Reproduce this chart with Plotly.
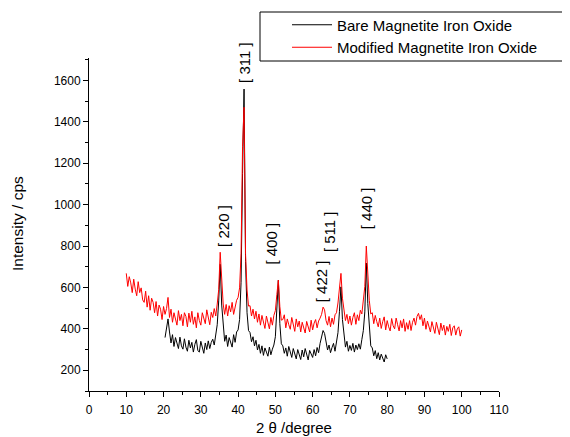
import numpy as np
import plotly.graph_objects as go

# 2-theta sampling grids (degrees)
two_theta_modified = np.round(np.arange(10.0, 100.0001, 0.4), 1)
two_theta_bare = np.round(np.arange(20.4, 80.0001, 0.4), 1)

# Modified magnetite iron oxide (red), intensity / cps
intensity_modified = [
    668, 605, 652, 622, 575, 640, 592, 560, 628, 575,
    598, 540, 528, 582, 505, 560, 490, 548, 528, 478,
    532, 462, 515, 495, 445, 508, 470, 498, 552, 455,
    495, 432, 478, 452, 418, 488, 440, 470, 415, 478,
    460, 410, 476, 432, 485, 422, 458, 405, 478, 440,
    418, 478, 450, 425, 492, 445, 420, 480, 455, 498,
    462, 520, 590, 770, 618, 520, 470, 518, 462, 512,
    482, 528, 470, 515, 538, 552, 598, 765, 1280, 1470,
    760, 588, 510, 512, 462, 495, 448, 485, 432, 472,
    418, 465, 440, 402, 462, 425, 400, 455, 418, 465,
    488, 565, 635, 508, 442, 445, 468, 405, 448, 420,
    398, 455, 415, 388, 448, 410, 438, 385, 432, 402,
    380, 436, 408, 385, 442, 395, 428, 445, 405, 438,
    452, 470, 505, 492, 440, 418, 460, 410, 452, 422,
    468, 478, 525, 595, 668, 548, 488, 440, 470, 425,
    462, 418, 455, 478, 422, 468, 440, 490, 472, 530,
    605, 800, 645, 538, 472, 478, 425, 465, 435, 410,
    452, 402, 435, 458, 395, 440, 410, 390, 450, 415,
    400, 452, 420, 390, 440, 405, 448, 388, 430, 398,
    440, 392, 432, 452, 418, 460, 475, 445, 468, 415,
    452, 398, 438, 412, 385, 435, 405, 378, 432, 398,
    372, 428, 392, 418, 370, 412, 388, 422, 368, 405,
    415, 370, 400, 410, 365, 395,
]

# Bare magnetite iron oxide (black), intensity / cps
intensity_bare = [
    358, 395, 448, 385, 332, 372, 315, 358, 330, 305,
    360, 318, 302, 352, 312, 292, 345, 308, 335, 288,
    325, 348, 295, 288, 340, 305, 282, 332, 300, 342,
    305, 335, 350, 322, 372, 420, 535, 712, 515, 405,
    340, 370, 315, 358, 330, 312, 372, 335, 385, 395,
    445, 625, 1150, 1558, 725, 478, 392, 382, 338, 362,
    318, 345, 298, 325, 282, 318, 272, 308, 288, 268,
    312, 275, 302, 322, 362, 472, 635, 425, 328, 318,
    282, 308, 268, 315, 280, 262, 305, 275, 255, 300,
    272, 252, 298, 265, 305, 270, 250, 296, 278, 262,
    300, 270, 310, 285, 330, 355, 392, 378, 335, 298,
    322, 285, 310, 330, 292, 338, 382, 485, 603, 445,
    360, 312, 340, 292, 320, 296, 330, 288, 322, 300,
    328, 302, 348, 392, 482, 718, 522, 392, 318, 308,
    270, 295, 256, 285, 250, 278, 258, 240, 275, 255,
]

# Miller index labels: text, 2-theta and intensity of label centre
hkl_labels = ["[ 220 ]", "[ 311 ]", "[ 400 ]", "[ 422 ]", "[ 511 ]", "[ 440 ]"]
hkl_x = [36.2, 41.9, 49.0, 62.4, 64.7, 74.5]
hkl_y = [897, 1685, 810, 628, 868, 981]

series_names = ["Bare Magnetite Iron Oxide", "Modified Magnetite Iron Oxide"]

FONT = "Liberation Sans, Arial, sans-serif"

W, H = 562, 429
ML, MR, MT, MB = 81, 71, 50, 46
PW, PH = W - ML - MR, H - MT - MB


def px_x(fx):
    return (fx - ML) / PW


def px_y(fy):
    return (H - MB - fy) / PH


fig = go.Figure()
fig.add_trace(go.Scatter(x=two_theta_bare, y=intensity_bare, mode="lines",
                         name=series_names[0],
                         line=dict(color="#000000", width=1)))
fig.add_trace(go.Scatter(x=two_theta_modified, y=intensity_modified, mode="lines",
                         name=series_names[1],
                         line=dict(color="#ff0000", width=1)))

for t, xv, yv in zip(hkl_labels, hkl_x, hkl_y):
    fig.add_annotation(x=xv, y=yv, xref="x", yref="y", text=t, textangle=-90,
                       showarrow=False, font=dict(family=FONT, size=15, color="#000"))

# y-axis title
fig.add_annotation(x=px_x(9), y=px_y(216), xref="paper", yref="paper",
                   xanchor="center", yanchor="middle",
                   text="Intensity / cps", textangle=-90, showarrow=False,
                   font=dict(family=FONT, size=15.5, color="#000"))

# legend frame
fig.add_shape(type="rect", xref="paper", yref="paper",
              x0=px_x(252), x1=px_x(575), y0=px_y(53), y1=px_y(4),
              line=dict(color="#000", width=1), fillcolor="white", layer="above")

fig.update_layout(
    width=W, height=H,
    margin=dict(l=ML, r=MR, t=MT, b=MB, autoexpand=False),
    paper_bgcolor="white", plot_bgcolor="white",
    font=dict(family=FONT, size=12, color="#000"),
    showlegend=True,
    legend=dict(x=px_x(279), y=px_y(28), xanchor="left", yanchor="middle",
                bgcolor="rgba(0,0,0,0)", borderwidth=0,
                font=dict(family=FONT, size=15), itemwidth=40, tracegroupgap=0),
    xaxis=dict(range=[0, 110], dtick=10, tick0=0, showline=True, linecolor="#000",
               linewidth=1, ticks="outside", ticklen=5, tickcolor="#000",
               showgrid=False, zeroline=False, ticklabelstandoff=3,
               minor=dict(dtick=5, ticks="outside", ticklen=3, tickcolor="#000"),
               tickfont=dict(size=12),
               title=dict(text="2 θ /degree", font=dict(size=15), standoff=6)),
    yaxis=dict(range=[100, 1708], dtick=200, tick0=0, showline=True, linecolor="#000",
               linewidth=1, ticks="outside", ticklen=5, tickcolor="#000",
               showgrid=False, zeroline=False,
               minor=dict(dtick=100, ticks="outside", ticklen=3, tickcolor="#000"),
               tickfont=dict(size=12)),
)

fig.write_html("out.html")
